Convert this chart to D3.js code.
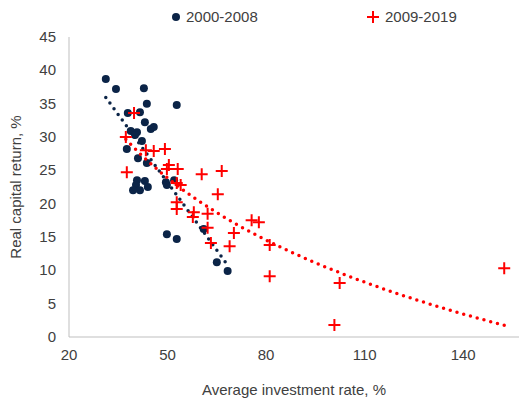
<!DOCTYPE html>
<html><head><meta charset="utf-8">
<script src="https://cdn.jsdelivr.net/npm/d3@7"></script>
<style>body{margin:0;background:#fff}text{font-family:"Liberation Sans",Arial,sans-serif}</style>
</head><body><div id="chart"></div>
<script>
// 2000-2008: [investment rate, capital return]
const early = [[31.2,38.7],[34.3,37.2],[42.8,37.3],[43.7,35.0],[52.8,34.8],[37.9,33.6],[41.6,33.7],
  [43.1,32.2],[44.9,31.2],[45.8,31.5],[38.8,30.9],[40.7,30.7],[40.1,30.3],[42.2,29.4],[37.6,28.2],
  [41.0,26.8],[43.7,26.1],[40.7,23.5],[43.1,23.4],[40.4,22.8],[41.6,22.0],[44.0,22.5],[39.5,22.0],
  [49.5,23.2],[49.8,22.8],[52,23.5],[61.0,16.2],[49.8,15.4],[52.8,14.7],[65.0,11.2],[68.3,9.9]]
// 2009-2019
const late = [[39.8,33.6],[37.3,30.0],[43.4,28.0],[45.8,27.9],[49.2,28.2],[37.6,24.7],[50.4,25.8],
  [49.8,25.2],[53.1,25.2],[60.4,24.4],[66.5,24.9],[52.8,23.1],[54.0,22.8],[65.3,21.4],[52.8,20.2],
  [52.8,19.2],[58.0,18.7],[57.7,18.0],[62.2,18.5],[62.2,16.4],[70.2,15.6],[75.6,17.5],[77.8,17.2],
  [63.2,14.1],[68.9,13.6],[81.1,13.8],[81.1,9.1],[102.4,8.1],[100.8,1.8],[152.5,10.3]]
const xTicks = [20,50,80,110,140]
const yTicks = [0,5,10,15,20,25,30,35,40,45]

const width = 521, height = 405
const svg = d3.select('#chart').append('svg').attr('width', width).attr('height', height)
const x = d3.scaleLinear().domain([20,157]).range([69,519])
const y = d3.scaleLinear().domain([0,45]).range([337,37])

svg.append('line').attr('x1',69).attr('x2',519).attr('y1',y(0)).attr('y2',y(0)).attr('stroke','#bfbfbf')
svg.append('line').attr('x1',69).attr('x2',69).attr('y1',y(0)).attr('y2',y(45)).attr('stroke','#bfbfbf')
svg.selectAll('.xt').data(xTicks).enter().append('text')
  .attr('x', d => x(d)).attr('y', 360).attr('text-anchor','middle').attr('font-size',15).attr('fill','#404040').text(d => d)
svg.selectAll('.yt').data(yTicks).enter().append('text')
  .attr('x', 56).attr('y', d => y(d)+5).attr('text-anchor','end').attr('font-size',15).attr('fill','#404040').text(d => d)
svg.append('text').attr('x',294).attr('y',395).attr('text-anchor','middle').attr('font-size',15).attr('fill','#404040')
  .text('Average investment rate, %')
svg.append('text').attr('transform','translate(21,187) rotate(-90)').attr('text-anchor','middle').attr('font-size',15).attr('fill','#404040')
  .text('Real capital return, %')

// trendline y = a + b f(x); f = identity (linear) or log
function fit(pts, f) {
  const lx = pts.map(d => f(d[0]))
  const mx = d3.mean(lx), my = d3.mean(pts, d => d[1])
  const b = d3.sum(pts, (d, i) => (lx[i]-mx)*(d[1]-my)) / d3.sum(lx, v => (v-mx)**2)
  const a = my - b*mx
  const ext = d3.extent(pts, d => d[0])
  return d3.range(0, 61).map(i => {
    const xv = ext[0] + (ext[1]-ext[0]) * i / 60
    return [xv, a + b*f(xv)]
  })
}
function trend(pts, color, f) {
  svg.append('path').datum(fit(pts, f))
    .attr('d', d3.line().x(d => x(d[0])).y(d => y(d[1])))
    .attr('fill','none').attr('stroke',color).attr('stroke-width',3.5).attr('stroke-linecap','round').attr('stroke-dasharray','0 7')
}

svg.selectAll('.e').data(early).enter().append('circle')
  .attr('cx', d => x(d[0])).attr('cy', d => y(d[1])).attr('r', 4).attr('fill','#0b2447')
trend(early, '#0b2447', v => v)
svg.selectAll('.l').data(late).enter().append('path')
  .attr('transform', d => 'translate(' + x(d[0]) + ',' + y(d[1]) + ')')
  .attr('d', 'M-6,0H6M0,-6V6').attr('stroke','#ff0000').attr('stroke-width',2)
trend(late, '#ff0000', Math.log)

// legend
svg.append('circle').attr('cx',176).attr('cy',17).attr('r',4).attr('fill','#0b2447')
svg.append('text').attr('x',186).attr('y',22).attr('font-size',15).attr('fill','#404040').text('2000-2008')
svg.append('path').attr('transform','translate(373,17)').attr('d','M-6,0H6M0,-6V6').attr('stroke','#ff0000').attr('stroke-width',2)
svg.append('text').attr('x',385).attr('y',22).attr('font-size',15).attr('fill','#404040').text('2009-2019')
</script></body></html>
